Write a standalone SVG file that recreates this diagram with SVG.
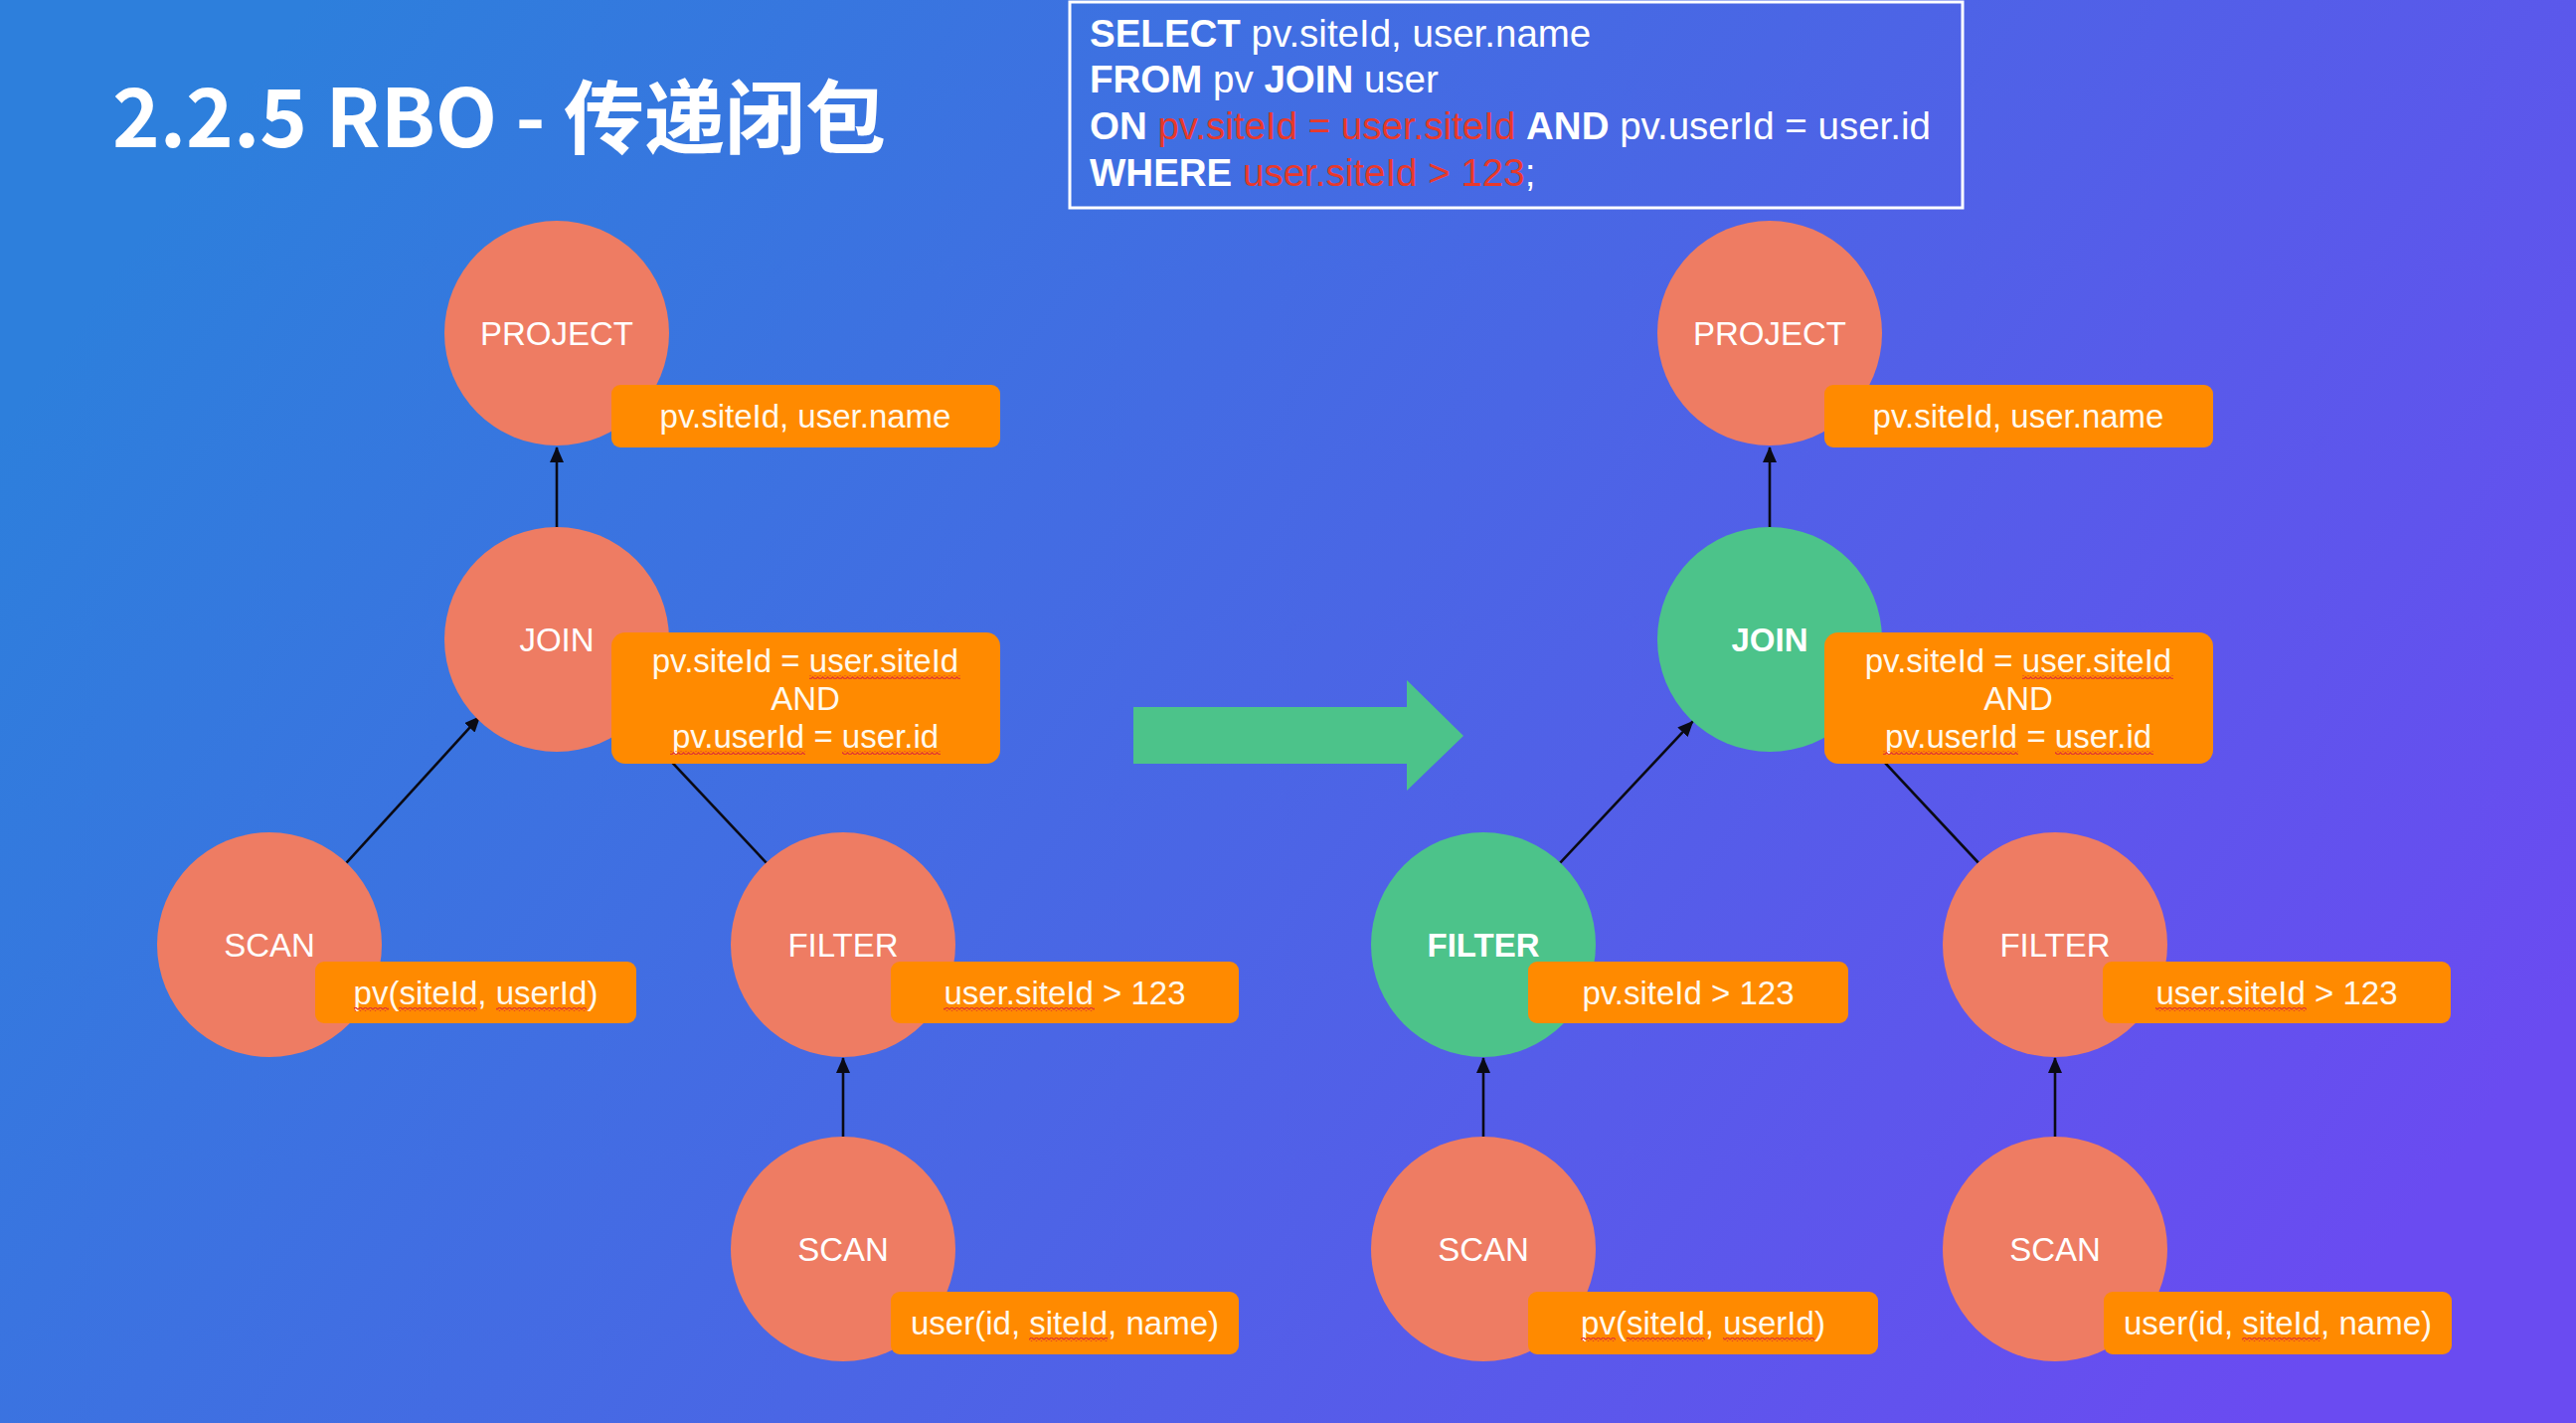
<svg xmlns="http://www.w3.org/2000/svg" width="2591" height="1431" viewBox="0 0 2591 1431">
<defs>
<linearGradient id="bg" x1="0" y1="0.3" x2="1" y2="0.7">
<stop offset="0" stop-color="#2D7FDC"/>
<stop offset="0.5" stop-color="#4A66E5"/>
<stop offset="1" stop-color="#6A4BF1"/>
</linearGradient>
<marker id="ah" markerUnits="userSpaceOnUse" markerWidth="16" markerHeight="14" viewBox="0 0 16 14" refX="15" refY="7" orient="auto">
<path d="M0,0 L16,7 L0,14 z" fill="#0a0a14"/>
</marker>
<pattern id="wave" patternUnits="userSpaceOnUse" width="5" height="4">
<path d="M0,3.2 L2.5,0.8 L5,3.2" fill="none" stroke="#E23B2E" stroke-width="1.3"/>
</pattern>
</defs>
<style>
.node{fill:#EE7C63}
.nodeg{fill:#4CC38A}
.lab{fill:#FF8A00}
.nt{font-family:"Liberation Sans",Arial,sans-serif;font-size:33px;fill:#fff;text-anchor:middle}
.ntb{font-weight:bold}
.lt{font-family:"Liberation Sans",Arial,sans-serif;font-size:33px;fill:#FFF9EE;text-anchor:middle}
.sq{fill:url(#wave)}
.cn{stroke:#0a0a14;stroke-width:2.6;fill:none}
.sql{font-family:"Liberation Sans",Arial,sans-serif;font-size:38.5px;fill:#fff}
.b{font-weight:bold}
.red{fill:#E8392B}
</style>
<rect x="0" y="0" width="2591" height="1431" fill="url(#bg)"/>

<g id="title">
<text x="113" y="148" font-family="'Noto Sans CJK SC','Noto Sans',sans-serif" font-weight="bold" font-size="81" fill="#fff">2.2.5 RBO - 传递闭包</text>
</g>

<g id="sql">
<rect x="1076" y="2" width="898" height="207" fill="none" stroke="#fff" stroke-width="3"/>
<text class="sql" x="1096" y="47"><tspan class="b">SELECT</tspan> pv.siteId, user.name</text>
<text class="sql" x="1096" y="93"><tspan class="b">FROM</tspan> pv <tspan class="b">JOIN</tspan> user</text>
<text class="sql" x="1096" y="140"><tspan class="b">ON</tspan> <tspan class="red">pv.siteId = user.siteId</tspan> <tspan class="b">AND</tspan> pv.userId = user.id</text>
<text class="sql" x="1096" y="187"><tspan class="b">WHERE</tspan> <tspan class="red">user.siteId &gt; 123</tspan>;</text>
</g>

<g id="connectors">
<line class="cn" x1="560" y1="531" x2="560" y2="450" marker-end="url(#ah)"/>
<line class="cn" x1="348.5" y1="867.7" x2="482.5" y2="720.7" marker-end="url(#ah)"/>
<line class="cn" x1="770.7" y1="867.6" x2="637.3" y2="725.4" marker-end="url(#ah)"/>
<line class="cn" x1="848" y1="1143" x2="848" y2="1064" marker-end="url(#ah)"/>
<line class="cn" x1="1780" y1="531" x2="1780" y2="450" marker-end="url(#ah)"/>
<line class="cn" x1="1569.3" y1="867.6" x2="1702.7" y2="725.4" marker-end="url(#ah)"/>
<line class="cn" x1="1989.8" y1="867.5" x2="1857.2" y2="725.5" marker-end="url(#ah)"/>
<line class="cn" x1="1492" y1="1143" x2="1492" y2="1064" marker-end="url(#ah)"/>
<line class="cn" x1="2067" y1="1143" x2="2067" y2="1064" marker-end="url(#ah)"/>
</g>

<g id="transform-arrow">
<polygon points="1140,711 1415,711 1415,684 1472,740 1415,795 1415,768 1140,768" fill="#4CC38A"/>
</g>

<g id="l-project">
<circle class="node" cx="560" cy="335" r="113"/>
<text class="nt" x="560" y="347">PROJECT</text>
<rect class="lab" x="615" y="387" width="391" height="63" rx="9"/>
<text class="lt" x="810" y="430">pv.siteId, user.name</text>
</g>

<g id="l-join">
<circle class="node" cx="560" cy="643" r="113"/>
<text class="nt" x="560" y="655">JOIN</text>
<rect class="lab" x="615" y="636" width="391" height="132" rx="14"/>
<text class="lt" x="810" y="676">pv.siteId = user.siteId</text>
<text class="lt" x="810" y="714">AND</text>
<text class="lt" x="810" y="752">pv.userId = user.id</text>
<rect class="sq" x="814" y="679" width="152" height="4"/>
<rect class="sq" x="674" y="755" width="136" height="4"/>
<rect class="sq" x="847" y="755" width="99" height="4"/>
</g>

<g id="l-scan-pv">
<circle class="node" cx="271" cy="950" r="113"/>
<text class="nt" x="271" y="962">SCAN</text>
<rect class="lab" x="317" y="967" width="323" height="62" rx="9"/>
<text class="lt" x="478.5" y="1010">pv(siteId, userId)</text>
<rect class="sq" x="356" y="1013" width="35" height="4"/>
<rect class="sq" x="401" y="1013" width="79" height="4"/>
<rect class="sq" x="499" y="1013" width="91" height="4"/>
</g>

<g id="l-filter">
<circle class="node" cx="848" cy="950" r="113"/>
<text class="nt" x="848" y="962">FILTER</text>
<rect class="lab" x="896" y="967" width="350" height="62" rx="9"/>
<text class="lt" x="1071" y="1010">user.siteId &gt; 123</text>
<rect class="sq" x="949" y="1013" width="152" height="4"/>
</g>

<g id="l-scan-user">
<circle class="node" cx="848" cy="1256" r="113"/>
<text class="nt" x="848" y="1268">SCAN</text>
<rect class="lab" x="896" y="1299" width="350" height="63" rx="9"/>
<text class="lt" x="1071" y="1342">user(id, siteId, name)</text>
<rect class="sq" x="1035" y="1345" width="79" height="4"/>
</g>

<g id="r-project">
<circle class="node" cx="1780" cy="335" r="113"/>
<text class="nt" x="1780" y="347">PROJECT</text>
<rect class="lab" x="1835" y="387" width="391" height="63" rx="9"/>
<text class="lt" x="2030" y="430">pv.siteId, user.name</text>
</g>

<g id="r-join">
<circle class="nodeg" cx="1780" cy="643" r="113"/>
<text class="nt ntb" x="1780" y="655">JOIN</text>
<rect class="lab" x="1835" y="636" width="391" height="132" rx="14"/>
<text class="lt" x="2030" y="676">pv.siteId = user.siteId</text>
<text class="lt" x="2030" y="714">AND</text>
<text class="lt" x="2030" y="752">pv.userId = user.id</text>
<rect class="sq" x="2034" y="679" width="152" height="4"/>
<rect class="sq" x="1894" y="755" width="136" height="4"/>
<rect class="sq" x="2067" y="755" width="99" height="4"/>
</g>

<g id="r-filter-pv">
<circle class="nodeg" cx="1492" cy="950" r="113"/>
<text class="nt ntb" x="1492" y="962">FILTER</text>
<rect class="lab" x="1537" y="967" width="322" height="62" rx="9"/>
<text class="lt" x="1698" y="1010">pv.siteId &gt; 123</text>
</g>

<g id="r-filter-user">
<circle class="node" cx="2067" cy="950" r="113"/>
<text class="nt" x="2067" y="962">FILTER</text>
<rect class="lab" x="2115" y="967" width="350" height="62" rx="9"/>
<text class="lt" x="2290" y="1010">user.siteId &gt; 123</text>
<rect class="sq" x="2168" y="1013" width="152" height="4"/>
</g>

<g id="r-scan-pv">
<circle class="node" cx="1492" cy="1256" r="113"/>
<text class="nt" x="1492" y="1268">SCAN</text>
<rect class="lab" x="1537" y="1299" width="352" height="63" rx="9"/>
<text class="lt" x="1713" y="1342">pv(siteId, userId)</text>
<rect class="sq" x="1590" y="1345" width="35" height="4"/>
<rect class="sq" x="1636" y="1345" width="79" height="4"/>
<rect class="sq" x="1733" y="1345" width="92" height="4"/>
</g>

<g id="r-scan-user">
<circle class="node" cx="2067" cy="1256" r="113"/>
<text class="nt" x="2067" y="1268">SCAN</text>
<rect class="lab" x="2116" y="1299" width="350" height="63" rx="9"/>
<text class="lt" x="2291" y="1342">user(id, siteId, name)</text>
<rect class="sq" x="2255" y="1345" width="79" height="4"/>
</g>
</svg>
